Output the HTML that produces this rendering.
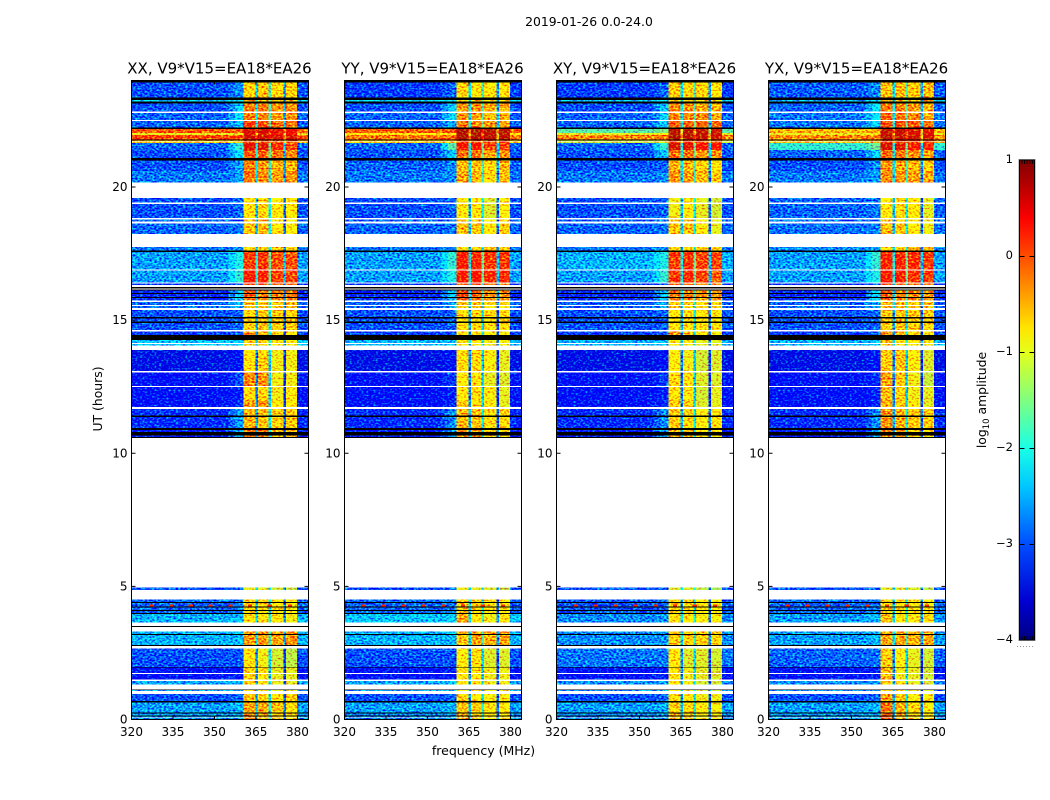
<!DOCTYPE html>
<html>
<head>
<meta charset="utf-8">
<title>2019-01-26 0.0-24.0</title>
<style>
html,body{margin:0;padding:0;background:#fff;}
svg{display:block;}
text{font-family:"DejaVu Sans","Liberation Sans",sans-serif;fill:#000;}
</style>
</head>
<body>
<svg id="chart" xmlns="http://www.w3.org/2000/svg" width="1050" height="800" viewBox="0 0 1050 800">
<defs>
<filter id="speckle" filterUnits="userSpaceOnUse" x="0" y="0" width="1050" height="800" color-interpolation-filters="sRGB">
<feTurbulence type="fractalNoise" baseFrequency="0.42 0.6" numOctaves="1" seed="7" result="n"/>
<feColorMatrix in="n" type="matrix" values="0 0 0 0 0.5  1 0 0 0 0  0 0 0 0 0.5  0 0 0 0 1" result="g"/>
<feComposite in="SourceGraphic" in2="g" operator="arithmetic" k1="0" k2="1" k3="2.4" k4="-1.2" result="mixed"/>
<feComposite in="mixed" in2="SourceAlpha" operator="in"/>
</filter>
<linearGradient id="cbar-gradient" x1="0" y1="1" x2="0" y2="0"></linearGradient>
</defs>
<text x="589" y="26" font-size="12.4" text-anchor="middle">2019-01-26 0.0-24.0</text>
<text x="483.5" y="755" font-size="12.5" text-anchor="middle">frequency (MHz)</text>
<text transform="translate(102,399) rotate(-90)" font-size="12.4" text-anchor="middle">UT (hours)</text>
<text transform="translate(986,400) rotate(-90)" font-size="12.4" text-anchor="middle">log<tspan font-size="8.5" dy="3">10</tspan><tspan dy="-3"> amplitude</tspan></text>
<g id="panels"></g>
<g id="colorbar"></g>
</svg>
<script>
const panelTitles = ["XX, V9*V15=EA18*EA26", "YY, V9*V15=EA18*EA26", "XY, V9*V15=EA18*EA26", "YX, V9*V15=EA18*EA26"];
const freqTicks = [320, 335, 350, 365, 380];
const timeTicks = [0, 5, 10, 15, 20];
const colorTicks = [1, 0, -1, -2, -3, -4];
const colorLabels = ["1", "0", "\u22121", "\u22122", "\u22123", "\u22124"];

/* frequency column edges (MHz) */
const freqEdges = [320, 355, 357.5, 360.5, 364.8, 365.7, 369.6, 370.5, 375, 375.8, 379.8, 384];
/* time row edges (hours) */
const rowEdges = [24, 23.34, 23.15, 22.78, 22.48, 22.22, 22.03, 21.95, 21.76, 21.65, 21.39, 21.01, 20.6, 19.59, 18.84, 18.23, 17.56, 16.88, 16.39, 16.13, 15.76, 15.38, 14.63, 14.25, 13.88, 13.05, 12.49, 12, 11.66, 10.87, 10.57, 4.86, 4, 3.32, 2.69, 1.97, 1.45, 1.07, 0.66, 0.24, 0];

/* no-data time spans (hours) */
const whiteSpans = [[22.83,22.77],[22.52,22.48],[21.73,21.7],[20.16,19.58],[19.41,19.36],[18.84,18.78],[18.7,18.63],[18.23,17.74],[16.91,16.86],[16.42,16.38],[16.32,16.24],[16.19,16.15],[15.73,15.68],[15.57,15.53],[15.46,15.38],[14.63,14.58],[14.14,14.1],[14.05,13.88],[13.08,13.04],[12.53,12.49],[11.73,11.66],[10.57,4.95],[4.87,4.51],[3.64,3.51],[3.47,3.31],[2.76,2.66],[1.74,1.7],[1.51,1.45],[1.32,1.13],[1.07,0.96],[0.08,0.05]];
/* flagged time spans (hours) */
const blackSpans = [[24,23.92],[23.37,23.27],[23.22,23.14],[22.23,22.17],[21.79,21.74],[21.08,20.99],[17.61,17.56],[16.24,16.19],[16.15,16.11],[16.02,15.98],[15.87,15.83],[15.11,15.07],[14.94,14.9],[14.45,14.26],[11.41,11.36],[10.94,10.87],[10.8,10.67],[10.61,10.57],[4.41,4.38],[4.24,4.21],[4.11,4.08],[4,3.97],[3.51,3.47],[3.21,3.17],[2.8,2.76],[1.98,1.95],[1.13,1.1],[0.69,0.63],[0.255,0.22],[0.15,0.12]];

/* short interference dashes near 4.3 h */
const dashFreqs = [327, 334.3, 341.4, 348.6, 355.8, 362.8, 370, 377.3];
const dashTimes = [4.31, 4.24];
const dashLevel = 0.2;

/* row values: [low, ramp, band1, band2, band3, band4, gap] in log10 amplitude */
const xxLevels = [
[-3,-2.7,-.7,-.6,-.75,-.7,-2.2],[-2.3,-2.1,-.6,-.6,-.7,-.6,-2],[-3,-2.3,-.25,-.25,-.35,-.35,-2.2],[-2.9,-2.2,-.2,-.3,-.4,-.4,-2.2],
[-2.9,-2.4,.1,.05,-.1,-.2,-2],[-.05,-.05,.55,.6,.5,.45,0],[-1,-1,.5,.5,.4,.4,-.8],[.05,0,.6,.6,.55,.55,0],
[-.6,-.6,0,0,-.1,-.1,-.6],[-2.9,-1.9,.5,.5,.2,.05,-2],[-3,-2.2,-.05,-.1,-.2,-.3,-2],[-3,-2.6,-.25,-.35,-.5,-.55,-2.2],
[-2.8,-2.6,-.2,-.3,-.4,-.35,-2.3],[-3,-2.9,-.85,-.7,-.85,-.85,-2.5],[-2.9,-2.8,-.6,-.55,-.8,-.9,-2.5],[-2.8,-2.7,-.8,-.7,-.55,-.7,-2.5],
[-2.6,-2,.1,.15,0,0,-2],[-2.6,-1.9,.3,.25,.05,.05,-2],[-3.2,-2.9,0,0,-.1,-.1,-2.4],[-3.2,-2.3,-.1,-.2,-.3,-.2,-2.2],
[-2.9,-2.5,-.6,-.65,-.65,-.6,-2.4],[-3,-2.9,-.7,-.6,-.65,-.7,-2.6],[-3.1,-3,-.35,-.5,-.7,-.8,-2.6],[-2.4,-2.3,-.7,-.7,-.9,-.9,-2.4],
[-3.5,-3.4,-.8,-.7,-.95,-.95,-2.8],[-3.4,-3,-.3,-.35,-.95,-.95,-2.8],[-3.4,-3.3,-.75,-.7,-.95,-.85,-2.8],[-3.4,-3.2,-.45,-.4,-.85,-.85,-2.7],
[-3.2,-2.6,-.5,-.6,-.7,-.65,-2.5],[-3.3,-2.5,-.2,-.2,-.6,-.6,-2.5],[-3,-2.9,-1,-1,-1.1,-1.15,-2.4],[-2.9,-2.8,-.7,-.7,-.8,-.9,-2.5],
[-2.5,-2.45,-.8,-.75,-.85,-.95,-2.3],[-2.5,-2.45,-.4,-.35,-.45,-.35,-2.2],[-3,-3,-.8,-.95,-1.1,-1.2,-2.7],[-3.4,-3.3,-.7,-.85,-1,-1,-2.8],
[-2.6,-2.5,-.65,-.8,-1,-1,-2.5],[-3,-2.9,-.6,-.7,-.8,-.7,-2.6],[-2.6,-2.5,-.45,-.45,-.6,-.8,-2.4],[-2.6,-2.5,-.3,-.5,-.7,-.8,-2.4]];
const yyLevels = [
[-3.1,-2.9,-.7,-.8,-.8,-.8,-2.2],[-2.3,-2.2,-.7,-.7,-.75,-.7,-2],[-3,-2.4,-.35,-.35,-.45,-.45,-2.2],[-2.9,-2.3,-.35,-.4,-.55,-.55,-2.2],
[-2.9,-2.5,-.2,-.25,-.35,-.4,-2],[-.1,-.05,.75,.75,.7,.7,0],[-.9,-.9,.7,.7,.65,.65,-.8],[-.2,-.1,.75,.75,.7,.7,-.2],
[-.7,-.6,.1,.1,0,0,-.6],[-2.9,-1.7,.4,.35,.1,.1,-2],[-3,-2.4,-.2,-.2,-.4,-.35,-2],[-2.9,-2.7,-.55,-.6,-.75,-.55,-2.2],
[-2.8,-2.7,-.45,-.55,-.7,-.55,-2.3],[-3,-2.9,-.85,-.8,-1.05,-.9,-2.5],[-2.9,-2.8,-.55,-.6,-.85,-.65,-2.5],[-2.8,-2.7,-.75,-.7,-.55,-.7,-2.5],
[-2.6,-1.9,.3,.2,.15,.1,-2],[-2.6,-2,.3,.35,.2,.15,-2],[-3.2,-2.9,-.1,0,-.2,-.2,-2.4],[-3.2,-2.4,.05,-.1,-.3,-.3,-2.2],
[-2.9,-2.6,-.6,-.6,-.75,-.7,-2.4],[-3,-2.9,-.75,-.75,-.75,-.7,-2.6],[-3.1,-3,-.8,-.85,-.9,-.9,-2.6],[-2.5,-2.4,-.8,-.85,-.95,-.9,-2.4],
[-3.5,-3.4,-.75,-.75,-.9,-1,-2.8],[-3.4,-3.1,-.85,-.8,-1,-1.05,-2.8],[-3.4,-3.3,-.85,-.75,-.9,-1,-2.8],[-3.4,-3.2,-.6,-.75,-.9,-1,-2.7],
[-3.2,-2.7,-.55,-.6,-.75,-.7,-2.5],[-3.3,-2.6,-.3,-.4,-.7,-.75,-2.5],[-3,-2.9,-.95,-1,-1.05,-1.15,-2.4],[-2.9,-2.8,-.65,-.7,-.75,-.85,-2.5],
[-2.4,-2.35,-.45,-.85,-.95,-.75,-2.2],[-2.5,-2.45,-.6,-.4,-.5,-.4,-2.2],[-3,-3,-.9,-.75,-1.05,-1.05,-2.7],[-3.4,-3.3,-.85,-.85,-.95,-.95,-2.8],
[-2.6,-2.5,-.85,-.85,-.95,-.95,-2.5],[-3,-2.9,-.7,-.8,-.9,-.9,-2.6],[-2.6,-2.5,-.6,-.65,-.8,-.85,-2.4],[-2.7,-2.6,-.45,-.7,-.85,-.85,-2.4]];
const xyLevels = [
[-3.1,-2.9,-.65,-.7,-.7,-.8,-2.2],[-2.4,-2.3,-.7,-.7,-.75,-.75,-2],[-3,-2.4,-.3,-.3,-.45,-.55,-2.2],[-2.9,-2.3,-.25,-.3,-.3,-.4,-2.2],
[-2.9,-2.4,-.1,-.1,-.1,-.15,-2],[-1.7,-1.5,.7,.7,.65,.6,-1],[-1,-.9,.7,.7,.65,.6,-.8],[-.3,-.2,.75,.7,.65,.6,-.2],
[-1.1,-1,.1,.05,0,0,-.8],[-2.9,-1.9,.55,.5,.35,.3,-2],[-3,-2.4,-.15,-.2,-.35,-.35,-2],[-3,-2.9,-.5,-.55,-.7,-.8,-2.2],
[-2.8,-2.7,-.35,-.4,-.55,-.6,-2.3],[-3,-2.9,-.95,-.85,-1,-1.1,-2.5],[-2.9,-2.8,-.65,-.6,-.9,-1,-2.5],[-2.8,-2.7,-.75,-.7,-.65,-.75,-2.5],
[-2.5,-2,.1,.15,.05,.05,-2],[-2.6,-1.9,.15,.2,.05,-.05,-2],[-3.2,-2.9,0,-.1,-.3,-.35,-2.4],[-3.2,-2.4,-.2,-.25,-.35,-.35,-2.2],
[-2.9,-2.6,-.65,-.65,-.75,-.75,-2.4],[-3,-2.9,-.85,-.8,-.8,-.85,-2.6],[-3.1,-3,-.45,-.6,-.8,-.9,-2.6],[-2.5,-2.4,-.9,-.85,-1,-1,-2.4],
[-3.5,-3.4,-.9,-.95,-1.1,-1.05,-2.8],[-3.4,-3.1,-.75,-.8,-1.05,-1.05,-2.8],[-3.4,-3.3,-.8,-.85,-1.1,-1,-2.8],[-3.4,-3.2,-.65,-.7,-1.05,-1,-2.7],
[-3.2,-2.7,-.65,-.75,-.9,-.85,-2.5],[-3.3,-2.6,-.55,-.6,-.85,-.85,-2.5],[-3,-2.9,-1.05,-1.05,-1.2,-1.3,-2.4],[-3,-2.9,-.7,-.75,-.85,-.9,-2.5],
[-2.7,-2.65,-.8,-.8,-.9,-.9,-2.4],[-2.7,-2.65,-.65,-.65,-.7,-.7,-2.3],[-2.8,-2.8,-.85,-1.05,-1.05,-1.1,-2.7],[-3.4,-3.3,-.8,-.95,-1,-1.05,-2.8],
[-2.7,-2.6,-.85,-.95,-1.1,-1.1,-2.5],[-3,-2.9,-.75,-.85,-.95,-.95,-2.6],[-2.6,-2.5,-.7,-.7,-.85,-.9,-2.4],[-2.7,-2.6,-.55,-.7,-.85,-.9,-2.4]];
const yxLevels = [
[-2.95,-2.7,-.6,-.55,-.65,-.55,-2.2],[-2.4,-2.2,-.55,-.55,-.65,-.55,-2],[-2.9,-2.2,-.2,-.25,-.35,-.5,-2.1],[-2.8,-2.2,-.1,-.25,-.25,-.45,-2.1],
[-2.8,-2.3,.05,0,-.05,-.2,-2],[-.55,-.5,.65,.65,.55,.5,-.2],[-1,-.95,.6,.6,.5,.5,-.8],[-.3,-.2,.7,.65,.6,.55,-.2],
[-.55,-.5,.15,.1,0,0,-.6],[-1.9,-1.6,.55,.5,.3,.2,-2],[-2.9,-2.3,-.15,-.2,-.3,-.4,-2],[-3,-2.7,-.35,-.45,-.55,-.65,-2.2],
[-2.8,-2.6,-.3,-.35,-.4,-.45,-2.3],[-2.9,-2.8,-.85,-.75,-.85,-1,-2.5],[-2.85,-2.75,-.55,-.6,-.85,-.95,-2.5],[-2.7,-2.6,-.75,-.7,-.5,-.55,-2.4],
[-2.6,-1.9,.25,.25,.2,.1,-2],[-2.6,-2,.3,.3,.15,.1,-2],[-3.2,-2.9,.05,-.1,-.2,-.2,-2.4],[-3.2,-2.3,-.1,-.25,-.3,-.35,-2.2],
[-2.9,-2.5,-.55,-.6,-.65,-.6,-2.4],[-3,-2.9,-.65,-.6,-.65,-.7,-2.6],[-3.1,-3,-.35,-.5,-.7,-.8,-2.6],[-2.5,-2.4,-.6,-.8,-.85,-.9,-2.4],
[-3.5,-3.4,-.65,-.6,-.9,-1.05,-2.8],[-3.4,-3.2,-.4,-.65,-.95,-1.15,-2.8],[-3.4,-3.3,-.6,-.7,-.95,-1,-2.8],[-3.4,-3.2,-.5,-.65,-.9,-1,-2.7],
[-3.2,-2.7,-.35,-.5,-.65,-.7,-2.5],[-3.3,-2.6,-.3,-.4,-.7,-.75,-2.5],[-3,-2.9,-1,-1,-1.05,-1.2,-2.4],[-2.9,-2.8,-.7,-.75,-.85,-.9,-2.5],
[-2.6,-2.5,-.6,-.85,-.9,-.75,-2.3],[-2.6,-2.5,-.45,-.45,-.5,-.45,-2.2],[-2.9,-2.85,-.65,-.9,-1,-1.1,-2.7],[-3.4,-3.3,-.55,-.95,-1,-1.1,-2.8],
[-2.7,-2.6,-.65,-.85,-1,-1.05,-2.5],[-3,-2.9,-.4,-.7,-.9,-.9,-2.6],[-2.6,-2.5,-.2,-.5,-.7,-.9,-2.4],[-2.6,-2.5,-.1,-.45,-.75,-.85,-2.4]];
const panelLevels = [xxLevels, yyLevels, xyLevels, yxLevels];

/* gap columns relative brightness */
const gapOffsets = [0, 0.4, -0.4];

const NS = "http://www.w3.org/2000/svg";
const panelLeft = [131.5, 344.5, 556.5, 768.5];
const panelWidth = 177, axisTop = 80.5, axisBottom = 719.5;
function xScale(mhz, left) { return left + (mhz - 320) / 64 * panelWidth; }
function yScale(h) { return axisBottom - h / 24 * (axisBottom - axisTop); }
function clip01(v) { return Math.max(0, Math.min(1, v)); }
function jet(v) {
  const t = (v + 4) / 5;
  const r = clip01(1.5 - Math.abs(4 * t - 3)), g = clip01(1.5 - Math.abs(4 * t - 2)), b = clip01(1.5 - Math.abs(4 * t - 1));
  return "rgb(" + Math.round(r * 255) + "," + Math.round(g * 255) + "," + Math.round(b * 255) + ")";
}
function make(tag, attrs, parent) {
  const el = document.createElementNS(NS, tag);
  for (const k in attrs) el.setAttribute(k, attrs[k]);
  parent.appendChild(el);
  return el;
}
/* column index -> value in a row */
function cellValue(row, c) {
  if (c === 0) return row[0];
  if (c === 1) return (row[0] + row[1]) / 2;
  if (c === 2) return row[1];
  if (c === 3) return row[2];
  if (c === 4) return row[6] + gapOffsets[0];
  if (c === 5) return row[3];
  if (c === 6) return row[6] + gapOffsets[1];
  if (c === 7) return row[4];
  if (c === 8) return row[6] + gapOffsets[2];
  if (c === 9) return row[5];
  return row[0];
}
const panelsRoot = document.getElementById("panels");
panelTitles.forEach(function (title, p) {
  const left = panelLeft[p], right = left + panelWidth;
  const g = make("g", {}, panelsRoot);
  
  
  const heat = make("g", { filter: "url(#speckle)" }, g);
  
  
  const levels = panelLevels[p];
  levels.forEach(function (row, r) {
    for (let c = 0; c < freqEdges.length - 1; c++) {
      const x0 = xScale(freqEdges[c], left), x1 = xScale(freqEdges[c + 1], left);
      const y0 = yScale(rowEdges[r]), y1 = yScale(rowEdges[r + 1]);
      const cell = make("rect", { x: x0, y: y0, width: x1 - x0 + 0.3, height: y1 - y0 + 0.3, fill: jet(cellValue(row, c)), "shape-rendering": "crispEdges" }, heat);
      
      
    }
  });
  dashFreqs.forEach(function (f) {
    const x0 = xScale(f - 0.75, left), x1 = xScale(f + 0.75, left);
    const y0 = yScale(dashTimes[0]), y1 = yScale(dashTimes[1]);
    const dash = make("rect", { x: x0, y: y0, width: x1 - x0, height: y1 - y0, fill: jet(dashLevel), "shape-rendering": "crispEdges" }, g);
    
    
  });
  whiteSpans.forEach(function (s) {
    const w = make("rect", { x: left, y: yScale(s[0]), width: panelWidth, height: yScale(s[1]) - yScale(s[0]), fill: "#fff", "shape-rendering": "crispEdges" }, g);
    
    
  });
  blackSpans.forEach(function (s) {
    const b = make("rect", { x: left, y: yScale(s[0]), width: panelWidth, height: yScale(s[1]) - yScale(s[0]), fill: "#000", "shape-rendering": "crispEdges" }, g);
    
    
  });
  const frame = make("rect", { x: left, y: axisTop, width: panelWidth, height: axisBottom - axisTop, fill: "none", stroke: "#000", "stroke-width": 1 }, g);
  
  
  freqTicks.forEach(function (f) {
    const x = xScale(f, left);
    [[axisBottom, axisBottom - 4], [axisTop, axisTop + 4]].forEach(function (e) {
      const t = make("line", { x1: x, x2: x, y1: e[0], y2: e[1], stroke: "#000", "stroke-width": 1 }, g);
      
      
    });
    const lab = make("text", { x: x, y: 736, "font-size": 12, "text-anchor": "middle" }, g);
    
    
    lab.textContent = String(f);
  });
  timeTicks.forEach(function (h) {
    const y = yScale(h);
    [[left, left + 4], [right, right - 4]].forEach(function (e) {
      const t = make("line", { x1: e[0], x2: e[1], y1: y, y2: y, stroke: "#000", "stroke-width": 1 }, g);
      
      
    });
    const lab = make("text", { x: left - 4, y: y + 4, "font-size": 12, "text-anchor": "end" }, g);
    
    
    lab.textContent = String(h);
  });
  const tt = make("text", { x: left + panelWidth / 2 - 0.5, y: 73.5, "font-size": 15, "text-anchor": "middle" }, g);
  
  
  tt.textContent = title;
});

/* colorbar */
const cbLeft = 1019.5, cbRight = 1034.5, cbTop = 160, cbBottom = 640;
function cbY(v) { return cbBottom - (v + 4) / 5 * (cbBottom - cbTop); }
const cbStops = [-4, -3.65, -3.6, -3, -2.75, -2.4, -2, -1.6, -1.25, -1, -0.75, -0.4, 0, 0.15, 0.4, 1];
const grad = document.getElementById("cbar-gradient");
cbStops.forEach(function (v) {
  make("stop", { offset: (v + 4) / 5, "stop-color": jet(v) }, grad);
});
const cb = document.getElementById("colorbar");
const rim = make("rect", { x: cbLeft - 1, y: cbTop - 0.5, width: cbRight - cbLeft + 2, height: cbBottom - cbTop + 1, fill: "none", stroke: "#c4c4c4", "stroke-width": 1 }, cb);


const ramp = make("rect", { x: cbLeft, y: cbTop, width: cbRight - cbLeft, height: cbBottom - cbTop, fill: "url(#cbar-gradient)", stroke: "#000", "stroke-width": 1 }, cb);


colorTicks.forEach(function (v, i) {
  const y = cbY(v);
  if (v < 1 && v > -4) {
    [[cbLeft, cbLeft + 5], [cbRight, cbRight - 5]].forEach(function (e) {
      const t = make("line", { x1: e[0], x2: e[1], y1: y + 0.5, y2: y + 0.5, stroke: "#000", "stroke-width": 1 }, cb);
      
      
    });
  }
  const lab = make("text", { x: 1013, y: y + 3, "font-size": 11.5, "text-anchor": "end" }, cb);
  
  
  lab.textContent = colorLabels[i];
});
for (let i = 0; i < 5; i++) {
  const x = cbLeft + 2.5 + i * 2.6;
  const top = make("line", { x1: x, x2: x, y1: cbTop, y2: cbTop + 4, stroke: "#000", "stroke-width": 1 }, cb);
  
  
  const bot = make("line", { x1: x, x2: x, y1: cbBottom, y2: cbBottom - 4, stroke: "#000", "stroke-width": 1 }, cb);
  
  
}
const dots = make("line", { x1: 1017, x2: 1035, y1: 646.5, y2: 646.5, stroke: "#999", "stroke-width": 1, "stroke-dasharray": "1 2" }, cb);


</script>
</body>
</html>
